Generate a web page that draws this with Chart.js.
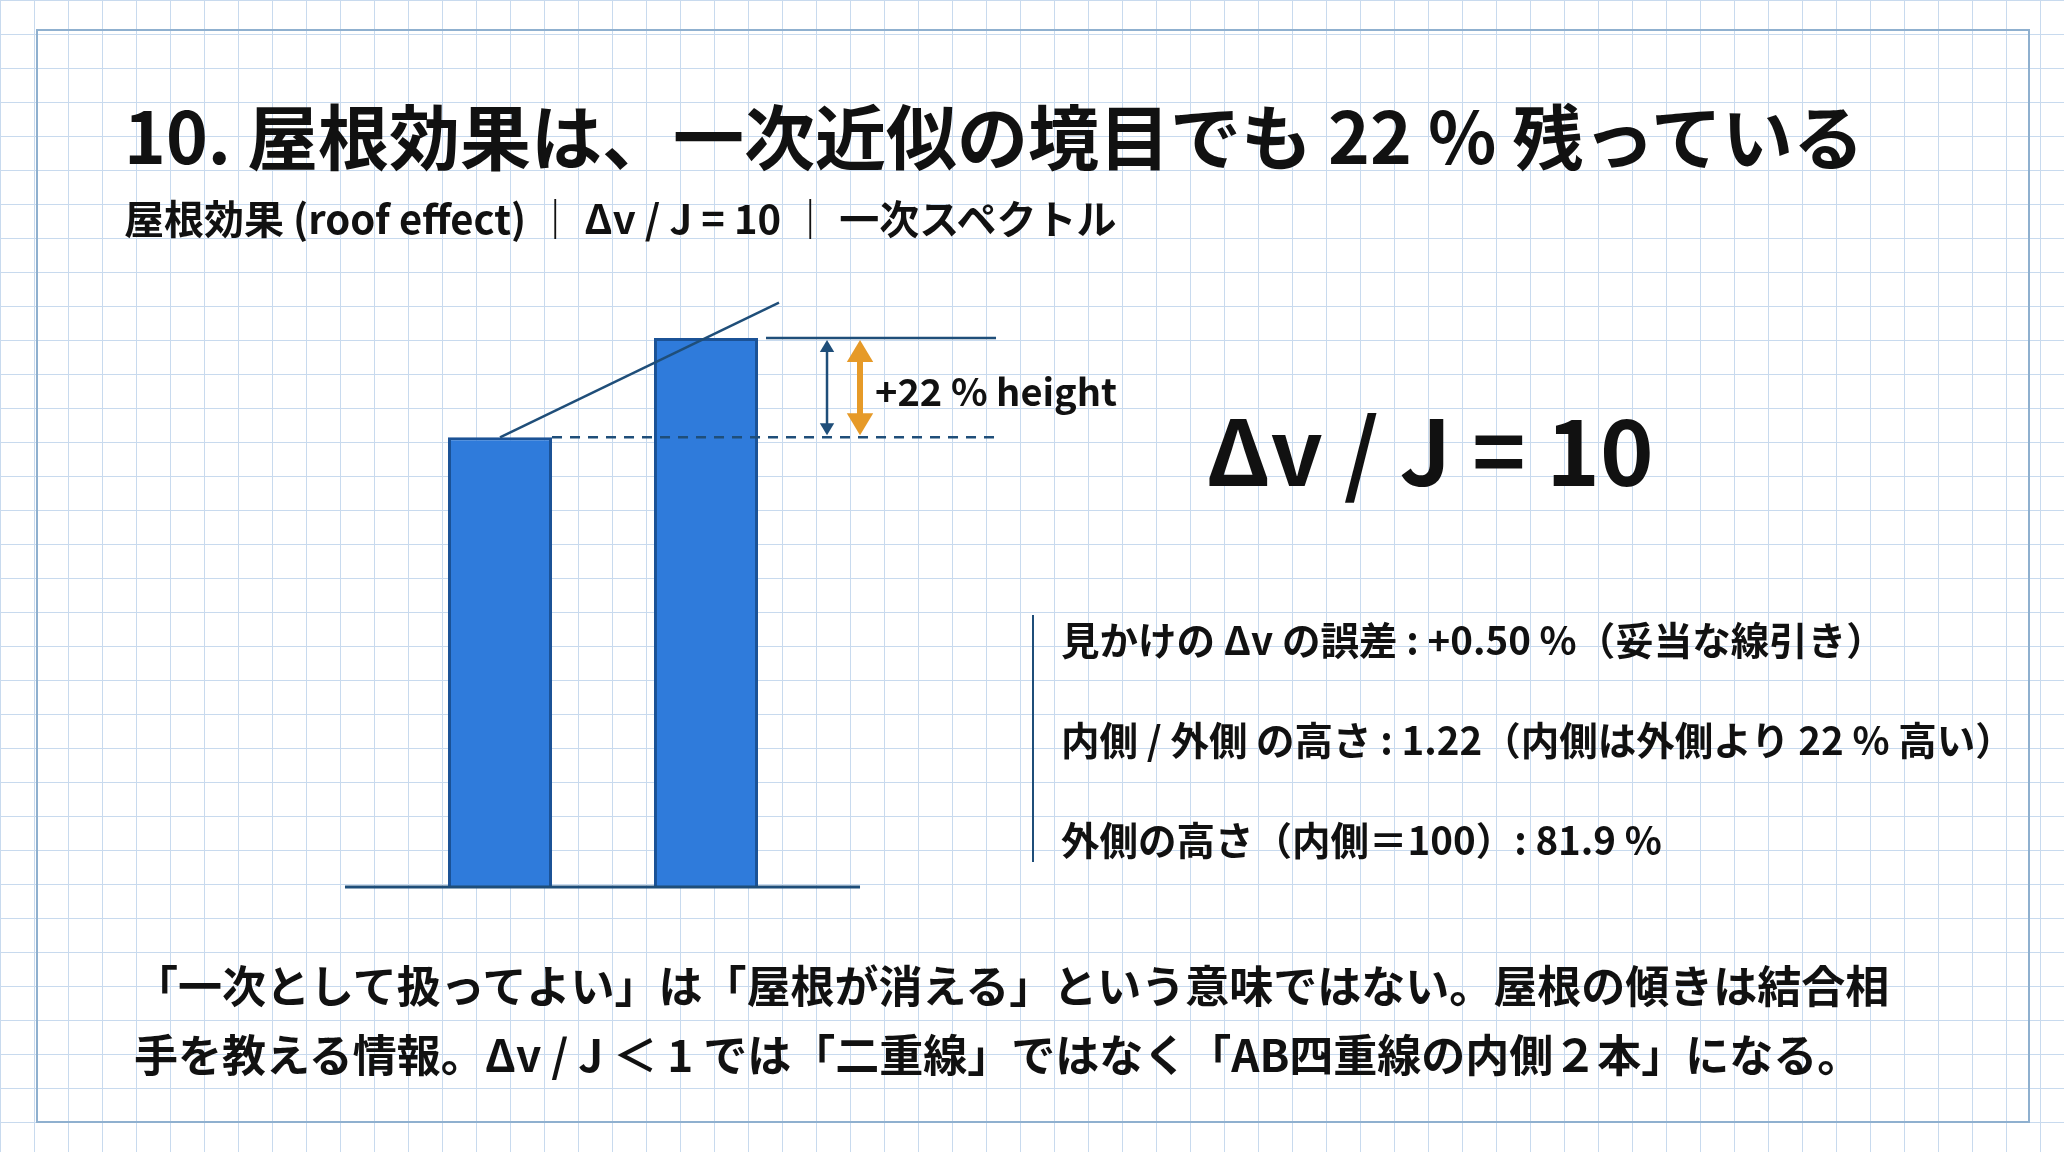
<!DOCTYPE html>
<html>
<head>
<meta charset="utf-8">
<script src="https://cdn.jsdelivr.net/npm/chart.js@4/dist/chart.umd.min.js"></script>
<style>
  html, body { margin: 0; padding: 0; }
  body {
    width: 2064px; height: 1152px; position: relative; overflow: hidden;
    background-color: #fff;
    background-image:
      linear-gradient(#c8daee 1.5px, transparent 1.5px),
      linear-gradient(90deg, #c8daee 1.5px, transparent 1.5px);
    background-size: 34px 34px;
    font-family: "Noto Sans CJK JP", "Noto Sans", sans-serif;
    color: #111;
  }
  #frame { position: absolute; left: 36px; top: 29px; width: 1990px; height: 1090px; border: 2px solid #8fb0cf; }
  canvas { position: absolute; left: 0; top: 0; }
  .t { position: absolute; white-space: nowrap; font-weight: 700; }
</style>
</head>
<body>
<div id="frame"></div>
<canvas id="roofChart" width="2064" height="1152"></canvas>
<div class="t" style="left:124px; top:82px; font-size:71px;">10. 屋根効果は、一次近似の境目でも 22 % 残っている</div>
<div class="t" style="left:124px; top:188px; font-size:40px;">屋根効果 (roof effect) ｜ Δv / J = 10 ｜ 一次スペクトル</div>
<div class="t" style="left:875px; top:362px; font-size:38px;">+22 % height</div>
<div class="t" style="left:1206px; top:380px; font-size:91px;">Δv / J = 10</div>
<div style="position:absolute; left:1032px; top:615px; width:2px; height:247px; background:#1f4e79;"></div>
<div class="t" style="left:1061px; top:610px; font-size:38.5px;">見かけの Δv の誤差 : +0.50 %（妥当な線引き）</div>
<div class="t" style="left:1061px; top:710px; font-size:38.5px;">内側 / 外側 の高さ : 1.22（内側は外側より 22 % 高い）</div>
<div class="t" style="left:1061px; top:810px; font-size:38.5px;">外側の高さ（内側＝100）: 81.9 %</div>
<div class="t" style="left:134px; top:952px; font-size:44px;">「一次として扱ってよい」は「屋根が消える」という意味ではない。屋根の傾きは結合相</div>
<div class="t" style="left:134px; top:1021px; font-size:44px;">手を教える情報。Δv / J ＜ 1 では「二重線」ではなく「AB四重線の内側２本」になる。</div>
<script>
// roof effect: outer vs inner line heights (inner = 100)
const categories = ["外側", "内側"];
const heights = [81.9, 100];
const yMax = 110;

const navy = "#1f4e79";
const orange = "#e69a28";

const annotate = {
  id: "annotate",
  afterDatasetsDraw(chart) {
    const ctx = chart.ctx;
    const y = chart.scales.y;
    const meta = chart.getDatasetMeta(0);
    const b0 = meta.data[0], b1 = meta.data[1];
    const base = y.getPixelForValue(0);
    const yLow = y.getPixelForValue(heights[0]);
    const yHigh = y.getPixelForValue(heights[1]);
    const half = b0.width / 2;
    ctx.save();
    ctx.strokeStyle = navy;
    ctx.lineWidth = 3;
    // baseline
    ctx.beginPath();
    ctx.moveTo(b0.x - half - 103, base);
    ctx.lineTo(b1.x + half + 102, base);
    ctx.stroke();
    // roof slope line through both bar tops
    const slope = (yHigh - yLow) / (b1.x - b0.x);
    const xEnd = b1.x + 73;
    ctx.lineWidth = 2.5;
    ctx.beginPath();
    ctx.moveTo(b0.x, yLow);
    ctx.lineTo(xEnd, yLow + slope * (xEnd - b0.x));
    ctx.stroke();
    // reference lines
    const right = b1.x + half + 238;
    ctx.beginPath();
    ctx.moveTo(b1.x + half + 8, yHigh);
    ctx.lineTo(right, yHigh);
    ctx.stroke();
    ctx.setLineDash([10, 8]);
    ctx.beginPath();
    ctx.moveTo(b0.x + half, yLow);
    ctx.lineTo(right, yLow);
    ctx.stroke();
    ctx.setLineDash([]);
    // arrows
    const arrow = (ax, color, w, head) => {
      ctx.strokeStyle = color; ctx.fillStyle = color; ctx.lineWidth = w;
      ctx.beginPath();
      ctx.moveTo(ax, yHigh + head); ctx.lineTo(ax, yLow - head); ctx.stroke();
      ctx.beginPath();
      ctx.moveTo(ax, yHigh + 2); ctx.lineTo(ax - head * 0.6, yHigh + head + 2); ctx.lineTo(ax + head * 0.6, yHigh + head + 2); ctx.fill();
      ctx.beginPath();
      ctx.moveTo(ax, yLow - 2); ctx.lineTo(ax - head * 0.6, yLow - head - 2); ctx.lineTo(ax + head * 0.6, yLow - head - 2); ctx.fill();
    };
    arrow(b1.x + half + 69, navy, 2.5, 12);
    arrow(b1.x + half + 102, orange, 6, 22);
    ctx.restore();
  }
};

new Chart(document.getElementById("roofChart").getContext("2d"), {
  type: "bar",
  data: {
    labels: categories,
    datasets: [{
      data: heights,
      backgroundColor: "#2f7bdb",
      borderColor: "#1b5296",
      borderWidth: 3,
      barPercentage: 0.505,
      categoryPercentage: 1
    }]
  },
  options: {
    responsive: false,
    animation: false,
    layout: { padding: { left: 397, right: 1255, top: 283, bottom: 265 } },
    plugins: { legend: { display: false }, tooltip: { enabled: false } },
    scales: {
      x: { display: false },
      y: { display: false, min: 0, max: yMax }
    }
  },
  plugins: [annotate]
});
</script>
</body>
</html>
